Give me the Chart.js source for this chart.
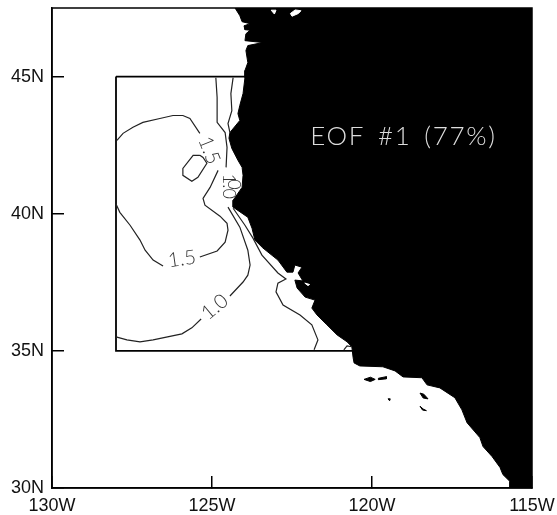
<!DOCTYPE html>
<html>
<head>
<meta charset="utf-8">
<title>EOF #1</title>
<script src="https://cdn.jsdelivr.net/npm/chart.js@4"></script>
<style>
  html, body { margin: 0; padding: 0; background: #fff; }
  canvas { display: block; }
</style>
</head>
<body>
<canvas id="eofChart" width="557" height="515"></canvas>
<script>
// Axis ticks
const xTickValues = [-130, -125, -120, -115];
const xTickLabels = ['130W', '125W', '120W', '115W'];
const yTickValues = [30, 35, 40, 45];
const yTickLabels = ['30N', '35N', '40N', '45N'];

// Land outline, north to south, closed along the east edge
const coastLon = [-124.28, -124.13, -124.06, -123.81, -124.0, -123.97, -123.81, -123.94, -123.97, -123.41, -123.88, -123.94, -123.88, -123.97, -123.97, -124.03, -124.13, -124.19, -124.13, -124.44, -124.47, -124.38, -124.19, -124.06, -124.03, -124.06, -124.34, -124.34, -123.88, -123.75, -123.66, -123.41, -122.94, -122.66, -122.47, -122.41, -122.19, -122.31, -122.16, -122.41, -122.34, -122.09, -121.78, -121.88, -121.72, -121.41, -121.09, -120.78, -120.63, -120.59, -120.56, -120.38, -119.66, -119.28, -119.03, -118.44, -118.28, -117.88, -117.41, -117.19, -117.03, -116.63, -116.53, -116.25, -116.0, -115.91, -115.69, -115.69, -115, -115, -124.28];
const coastLat = [47.5, 47.22, 47.0, 46.93, 46.85, 46.71, 46.69, 46.56, 46.31, 46.24, 46.13, 45.95, 45.51, 45.22, 44.96, 44.38, 43.95, 43.65, 43.4, 42.96, 42.75, 42.38, 41.95, 41.69, 41.4, 40.96, 40.49, 40.24, 39.87, 39.47, 39.04, 38.75, 38.31, 37.87, 37.87, 38.13, 38.05, 37.84, 37.55, 37.58, 37.29, 36.96, 36.85, 36.56, 36.31, 35.95, 35.58, 35.33, 35.15, 34.75, 34.56, 34.45, 34.42, 34.27, 34.05, 34.02, 33.76, 33.65, 33.29, 32.85, 32.38, 31.84, 31.51, 31.15, 30.75, 30.49, 30.24, 30, 30, 47.5, 47.5];

// Channel Islands etc. (black on the sea)
const islandALon = [-120.25, -120.05, -119.9, -120.05, -120.25];
const islandALat = [33.96, 34.04, 33.96, 33.88, 33.96];
const islandBLon = [-119.8, -119.55, -119.55, -119.8, -119.8];
const islandBLat = [34.0, 34.06, 33.98, 33.95, 34.0];
const islandCLon = [-118.5, -118.38, -118.25, -118.4, -118.5];
const islandCLat = [33.46, 33.42, 33.25, 33.28, 33.46];
const islandDLon = [-118.5, -118.4, -118.3, -118.42, -118.5];
const islandDLat = [32.98, 32.88, 32.82, 32.84, 32.98];
const islandELon = [-119.5, -119.43, -119.45, -119.5];
const islandELat = [33.25, 33.25, 33.18, 33.25];

// Inland water (white on the land)
const waterALon = [-122.55, -122.4, -122.22, -122.3, -122.5, -122.55];
const waterALat = [47.3, 47.43, 47.4, 47.3, 47.2, 47.3];
const waterBLon = [-123.15, -123.0, -123.05, -123.15];
const waterBLat = [47.42, 47.42, 47.28, 47.42];
const waterCLon = [-122.1, -121.95, -122.0, -122.1];
const waterCLat = [37.47, 37.42, 37.38, 37.47];

// Analysis box
const boxLon = [-128, -120, -120, -128, -128];
const boxLat = [45, 45, 35, 35, 45];

// Contours, 1.0 level
const c10NorthLon = [-124.88, -124.84, -124.84, -124.59, -124.53, -124.56];
const c10NorthLat = [44.96, 44.24, 43.33, 42.96, 42.42, 41.69];
const c10NearLon = [-124.34, -124.41, -124.38, -124.5, -124.44];
const c10NearLat = [44.96, 44.38, 43.76, 43.29, 42.96];
const c10MainLon = [-124.5, -124.13, -123.88, -123.81, -123.88, -124.03, -124.44];
const c10MainLat = [40.24, 39.51, 38.67, 38.13, 37.76, 37.51, 37.0];
const c10WestLon = [-125.34, -125.63, -125.94, -126.84, -127.25, -127.66, -128];
const c10WestLat = [36.16, 35.84, 35.62, 35.4, 35.33, 35.4, 35.51];
const c10CoastLon = [-124.34, -123.97, -123.72, -123.44, -122.94, -122.69, -122.94, -123, -122.78, -122.25, -121.88, -121.69, -121.81];
const c10CoastLat = [40.2, 39.58, 39.11, 38.49, 37.84, 37.62, 37.47, 37.15, 36.67, 36.31, 35.95, 35.4, 35.04];
const c10CornerLon = [-120.88, -120.78, -120.63];
const c10CornerLat = [35.04, 35.18, 35.15];

// Contours, 1.5 level
const c15NorthLon = [-127.97, -127.78, -127.47, -127.16, -126.63, -126.22, -125.91, -125.69, -125.38];
const c15NorthLat = [42.67, 42.93, 43.15, 43.33, 43.47, 43.58, 43.58, 43.47, 42.93];
const c15MidLon = [-124.81, -125.06, -125.28, -125.22, -124.75, -124.53, -124.5, -124.59, -124.84, -125.38];
const c15MidLat = [41.58, 40.96, 40.56, 40.31, 39.91, 39.65, 39.4, 38.96, 38.64, 38.42];
const c15SouthLon = [-126.53, -126.84, -127.09, -127.25, -127.56, -127.88, -128];
const c15SouthLat = [38.09, 38.31, 38.67, 39.04, 39.58, 40.05, 40.35];
const c15LoopLon = [-125.38, -125.59, -125.91, -125.91, -125.63, -125.44, -125.16, -125.28, -125.38];
const c15LoopLat = [42.13, 42.13, 41.65, 41.4, 41.18, 41.33, 41.84, 42.05, 42.13];

// Contour labels
const labelTexts = ['1.5', '1.5', '1.0', '1.0', '0'];
const labelLon = [-125.09, -125.94, -124.91, -124.47, -124.31];
const labelLat = [42.31, 38.35, 36.6, 41.0, 41.07];
const labelRotation = [68, -8, -40, 90, 90];
const labelSize = [20, 20, 20, 18, 18];

const chartTitle = 'EOF #1 (77%)';
const titleLon = -119.02;
const titleLat = 42.8;

const zip = (lon, lat) => lon.map((v, i) => ({ x: v, y: lat[i] }));

const contour = (lon, lat) => ({
  data: zip(lon, lat),
  borderColor: '#222',
  borderWidth: 1.2,
  pointRadius: 0,
  fill: false
});

const area = (lon, lat, color) => ({
  data: zip(lon, lat),
  borderColor: color,
  backgroundColor: color,
  borderWidth: 1,
  pointRadius: 0,
  fill: 'shape'
});

// The scales must not push the plot area in for their label overhang
const clearPadding = scale => {
  scale.paddingLeft = 0;
  scale.paddingRight = 0;
  scale.paddingTop = 0;
  scale.paddingBottom = 0;
};

// Frame, contour labels and the title go on top of the datasets
const annotations = {
  id: 'annotations',
  afterDatasetsDraw(chart) {
    const { ctx, chartArea, scales } = chart;
    ctx.save();
    ctx.strokeStyle = '#000';
    ctx.lineWidth = 1.5;
    ctx.strokeRect(chartArea.left, chartArea.top, chartArea.right - chartArea.left, chartArea.bottom - chartArea.top);
    ctx.textAlign = 'center';
    ctx.textBaseline = 'middle';
    ctx.fillStyle = '#333';
    labelTexts.forEach((text, i) => {
      ctx.save();
      ctx.translate(scales.x.getPixelForValue(labelLon[i]), scales.y.getPixelForValue(labelLat[i]));
      ctx.rotate(labelRotation[i] * Math.PI / 180);
      ctx.font = `300 ${labelSize[i]}px Lato, "Liberation Sans"`;
      ctx.fillText(text, 0, 0);
      ctx.restore();
    });
    ctx.fillStyle = '#ddd';
    ctx.font = '300 26px Lato, "Liberation Sans"';
    ctx.letterSpacing = '1.7px';
    ctx.wordSpacing = '4px';
    ctx.fillText(chartTitle, scales.x.getPixelForValue(titleLon), scales.y.getPixelForValue(titleLat));
    ctx.restore();
  }
};

new Chart(document.getElementById('eofChart'), {
  type: 'line',
  data: {
    datasets: [
      contour(c10NorthLon, c10NorthLat),
      contour(c10NearLon, c10NearLat),
      contour(c10MainLon, c10MainLat),
      contour(c10WestLon, c10WestLat),
      contour(c10CoastLon, c10CoastLat),
      contour(c10CornerLon, c10CornerLat),
      contour(c15NorthLon, c15NorthLat),
      contour(c15MidLon, c15MidLat),
      contour(c15SouthLon, c15SouthLat),
      contour(c15LoopLon, c15LoopLat),
      { data: zip(boxLon, boxLat), borderColor: '#000', borderWidth: 1.8, pointRadius: 0, fill: false },
      area(waterALon, waterALat, '#fff'),
      area(waterBLon, waterBLat, '#fff'),
      area(waterCLon, waterCLat, '#fff'),
      area(islandALon, islandALat, '#000'),
      area(islandBLon, islandBLat, '#000'),
      area(islandCLon, islandCLat, '#000'),
      area(islandDLon, islandDLat, '#000'),
      area(islandELon, islandELat, '#000'),
      area(coastLon, coastLat, '#000')
    ]
  },
  options: {
    responsive: false,
    animation: false,
    layout: { padding: { top: 8, right: 25 } },
    plugins: { legend: { display: false }, tooltip: { enabled: false } },
    scales: {
      x: {
        type: 'linear',
        min: -130,
        max: -115,
        afterFit: scale => { scale.height = 27; clearPadding(scale); },
        afterBuildTicks: scale => { scale.ticks = xTickValues.map(value => ({ value })); },
        border: { color: '#000', width: 1.5 },
        grid: { drawOnChartArea: false, color: '#000', lineWidth: 1.5, tickLength: -12 },
        ticks: {
          padding: 19,
          autoSkip: false,
          maxRotation: 0,
          color: '#111',
          font: { family: '"Liberation Sans"', size: 18 },
          callback: value => xTickLabels[xTickValues.indexOf(value)]
        }
      },
      y: {
        type: 'linear',
        min: 30,
        max: 47.5,
        afterFit: scale => { scale.width = 52; clearPadding(scale); },
        afterBuildTicks: scale => { scale.ticks = yTickValues.map(value => ({ value })); },
        border: { color: '#000', width: 1.5 },
        grid: { drawOnChartArea: false, color: '#000', lineWidth: 1.5, tickLength: -12 },
        ticks: {
          padding: 20,
          autoSkip: false,
          color: '#111',
          font: { family: '"Liberation Sans"', size: 18 },
          callback: value => yTickLabels[yTickValues.indexOf(value)]
        }
      }
    }
  },
  plugins: [annotations]
});
</script>
</body>
</html>
